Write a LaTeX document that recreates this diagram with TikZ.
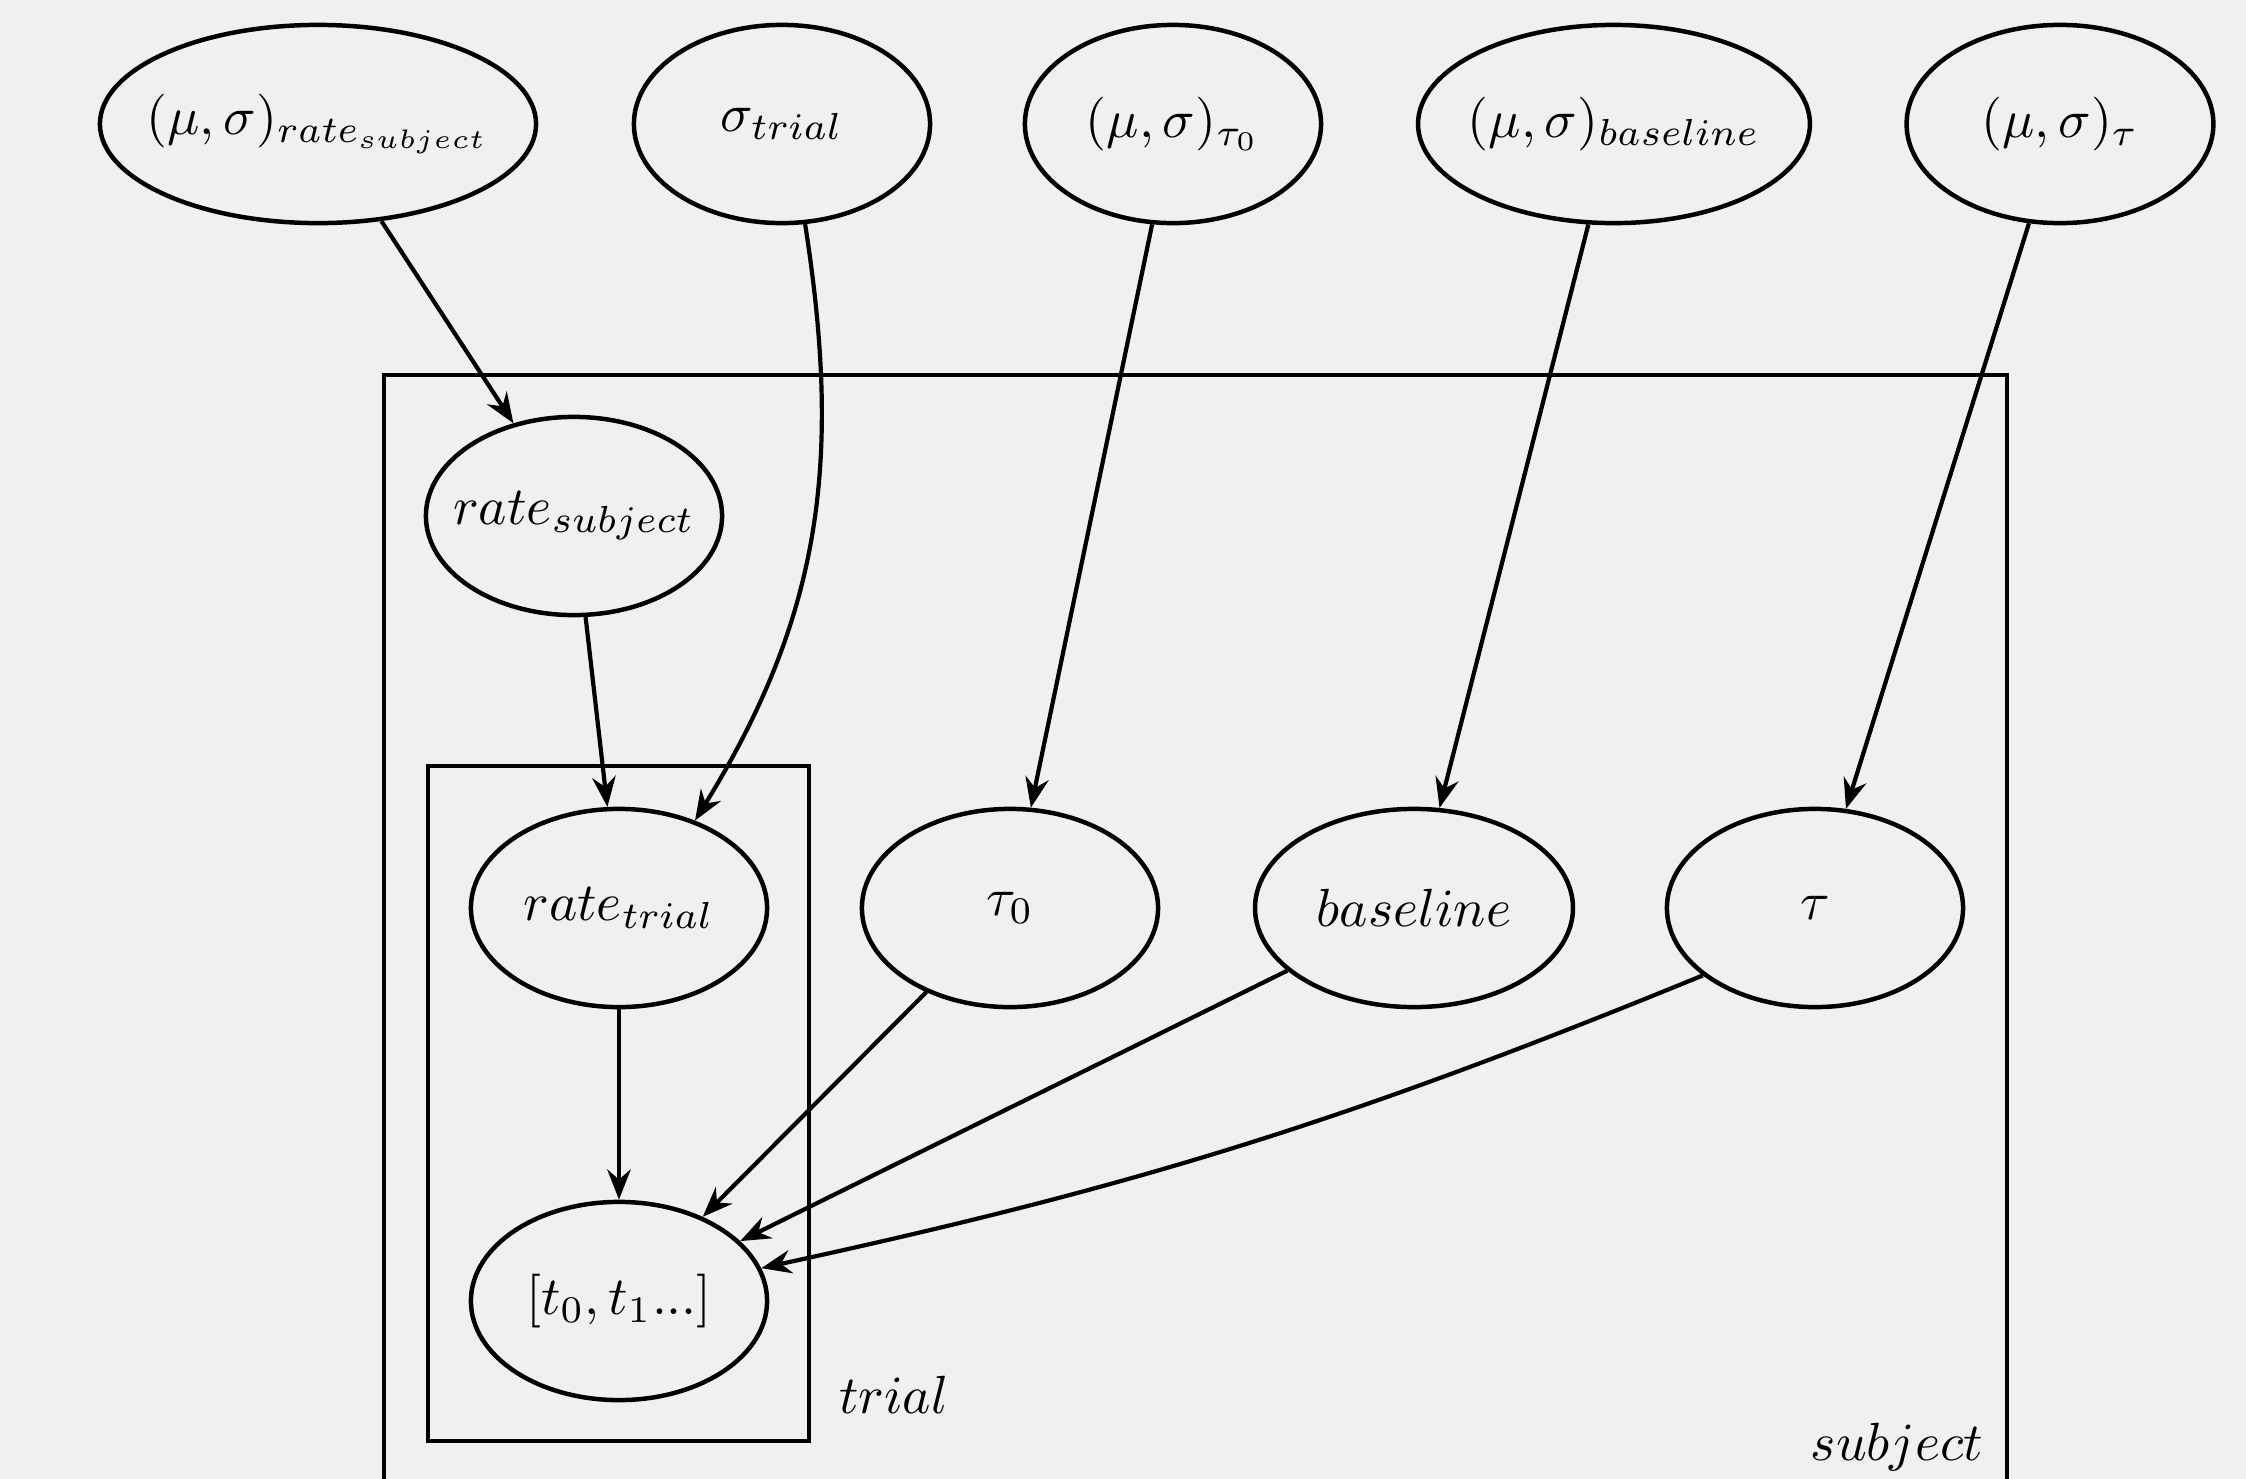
\documentclass[tikz,border=0pt]{standalone}
\usepackage{graphicx}
\usetikzlibrary{arrows.meta,shapes.geometric}
\definecolor{bg}{RGB}{240,240,240}
\newcommand\ctext[1]{\makebox[0pt]{\scalebox{0.96}{$#1$}}}
\newcommand\stext[1]{\scalebox{0.96}{$#1$}}
\begin{document}
\begin{tikzpicture}[x=0.1786pt,y=-0.1786pt,
  var/.style={ellipse,draw,line width=0.8pt,inner sep=0pt,minimum height=35.4pt,minimum width=52.9pt},
  edge/.style={-{Stealth[length=5.4pt,width=4.2pt,inset=1.8pt]},line width=0.75pt},
  plate/.style={line width=0.75pt},
  platelabel/.style={inner sep=0pt}]
\fill[bg] (0,0) rectangle (2246,1479);
\useasboundingbox (0,0) rectangle (2246,1479);
\clip (0,0) rectangle (2246,1479);
% plates
\draw[plate] (384,1530) -- (384,375) -- (2007,375) -- (2007,1530);
\draw[plate] (428,766) rectangle (809,1441);
\node[platelabel,anchor=base west] (triallbl) at (838,1413) {\stext{trial}};
\node[platelabel,anchor=base east] (subjlbl) at (1984,1460) {\stext{subject}};
% top row
\node[var,minimum width=77.9pt] (A) at (318,124) {\ctext{(\mu,\sigma)_{rate_{subject}}}};
\node[var] (B) at (782,124) {\ctext{\sigma_{trial}}};
\node[var] (C) at (1173,124) {\ctext{(\mu,\sigma)_{\tau_0}}};
\node[var,minimum width=70pt] (D) at (1614,124) {\ctext{(\mu,\sigma)_{baseline}}};
\node[var,minimum width=54.8pt] (E) at (2060,124) {\ctext{(\mu,\sigma)_{\tau}}};
% subject level
\node[var] (rs) at (574,516) {\ctext{rate_{subject}}};
\node[var] (rt) at (619,908) {\ctext{rate_{trial}}};
\node[var] (tau0) at (1010,908) {\ctext{\tau_0}};
\node[var,minimum width=56.8pt] (bl) at (1414,908) {\ctext{baseline}};
\node[var] (tau) at (1815,908) {\ctext{\tau}};
\node[var] (t) at (619,1301) {\ctext{[t_0,t_1...]}};
% edges
\draw[edge] (A) -- (rs);
\draw[edge] (B.-77) .. controls (842,460) and (822,615) .. (rt.49);
\draw[edge] (rs) -- (rt);
\draw[edge] (C) -- (tau0);
\draw[edge] (D) -- (bl);
\draw[edge] (E) -- (tau);
\draw[edge] (rt) -- (t);
\draw[edge] (tau0) -- (t);
\draw[edge] (bl) -- (t);
\draw[edge] (tau.211) to[bend left=5] (t.13);
\end{tikzpicture}
\end{document}
